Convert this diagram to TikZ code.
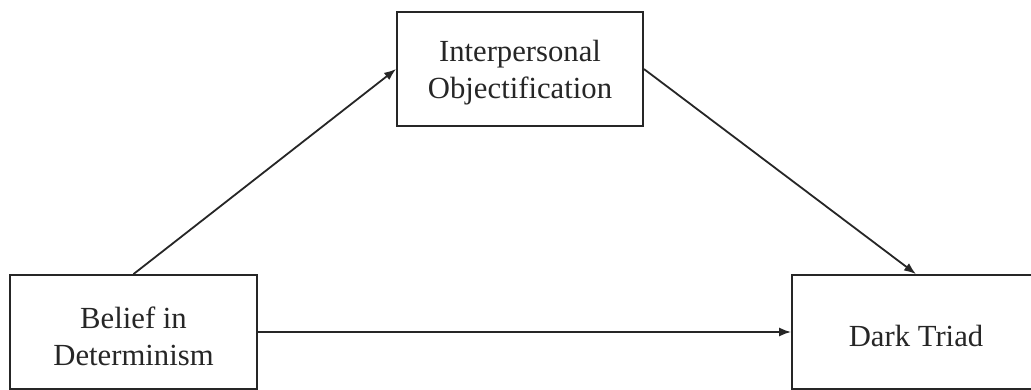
\documentclass[tikz,border=0pt]{standalone}
\usepackage{fontspec}
\setmainfont{Liberation Serif}
\usetikzlibrary{arrows.meta}
\newcommand\lowtxt[1]{\raisebox{-4pt}[\height][\depth]{#1}}
\begin{document}
\begin{tikzpicture}[x=1pt,y=-1pt,
  box/.style={draw=black!85,line width=1.8pt,minimum width=#1,minimum height=114pt,
    inner sep=0pt,align=center,text=black!85,font=\fontsize{30.7}{37}\selectfont},
  conn/.style={draw=black!85,line width=1.8pt,-{Latex[length=12pt,width=9pt]}}]
\useasboundingbox (0,0) rectangle (1031,390);
\clip (0,0) rectangle (1031,390);
\fill[white] (0,0) rectangle (1031,390);
\node[box=246pt] (io) at (520,69) {\lowtxt{Interpersonal}\\\lowtxt{Objectification}};
\node[box=247pt] (bd) at (133.5,332) {\lowtxt{Belief in}\\\lowtxt{Determinism}};
\node[box=248pt] (dt) at (916,332) {\lowtxt{Dark Triad}};
\draw[conn] (bd.north) -- (io.west);
\draw[conn] (io.east) -- (dt.north);
\draw[conn] (bd.east) -- (dt.west);
\end{tikzpicture}
\end{document}
